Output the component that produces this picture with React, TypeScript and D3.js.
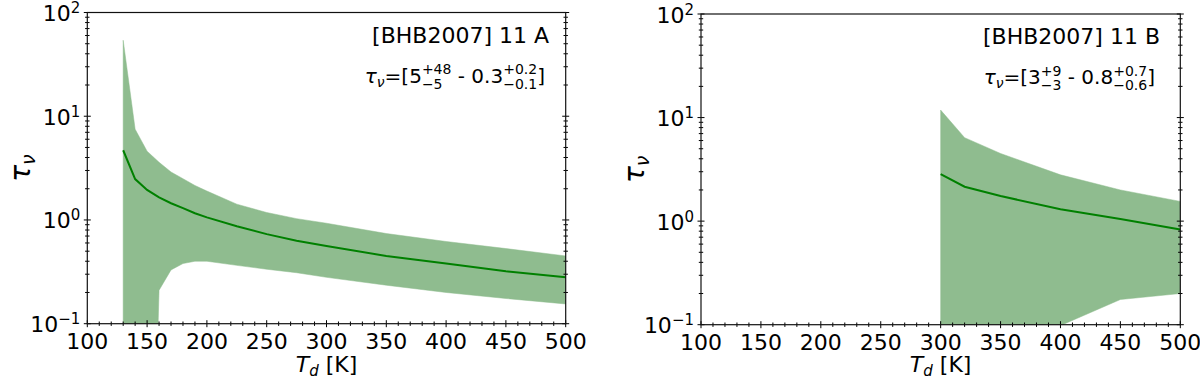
import React, { useEffect, useRef } from 'react'
import * as d3 from 'd3'

// panel A: [BHB2007] 11 A
const tempA = [130, 140, 150, 160, 170, 180, 190, 200, 225, 250, 275, 300, 350, 400, 450, 500]
const tauA = [4.7, 2.48, 1.95, 1.65, 1.45, 1.3, 1.16, 1.06, 0.87, 0.73, 0.63, 0.56, 0.45, 0.38, 0.32, 0.28]
const tauAHi = [54, 7.5, 4.6, 3.6, 2.9, 2.5, 2.15, 1.9, 1.42, 1.18, 1.03, 0.93, 0.74, 0.62, 0.53, 0.45]
const tauALo = [1e-6, 1e-6, 1e-6, 0.21, 0.33, 0.38, 0.4, 0.4, 0.365, 0.335, 0.31, 0.28, 0.235, 0.2, 0.175, 0.155]

// panel B: [BHB2007] 11 B
const tempB = [300, 320, 350, 400, 450, 500]
const tauB = [2.85, 2.15, 1.75, 1.3, 1.05, 0.83]
const tauBHi = [11.8, 6.4, 4.5, 2.8, 2.0, 1.55]
const tauBLo = [1e-6, 1e-6, 1e-6, 0.098, 0.175, 0.2]

const xTicks = [100, 150, 200, 250, 300, 350, 400, 450, 500]
const yTicks = [0.1, 1, 10, 100]
const yExp = ['−1', '0', '1', '2']

const FONT = "'DejaVu Sans', sans-serif"
const FILL = '#8fbc8f'
const LINE = '#008000'

type Part = { t?: string; it?: boolean; sub?: string; sup?: string; subIt?: boolean }

const mathA: Part[] = [
  { t: 'τ', it: true, sub: 'ν', subIt: true },
  { t: '=[5', sup: '+48', sub: '−5' },
  { t: '\u00a0- 0.3', sup: '+0.2', sub: '−0.1' },
  { t: ']' },
]
const mathB: Part[] = [
  { t: 'τ', it: true, sub: 'ν', subIt: true },
  { t: '=[3', sup: '+9', sub: '−3' },
  { t: '\u00a0- 0.8', sup: '+0.7', sub: '−0.6' },
  { t: ']' },
]

function drawMath(g: any, parts: Part[], size: number) {
  let x = 0
  const small = size * 0.7
  parts.forEach((p) => {
    if (p.t) {
      const m = g.append('text').attr('x', x).attr('y', 0).attr('font-size', size)
        .style('white-space', 'pre')
        .attr('font-style', p.it ? 'italic' : 'normal').text(p.t)
      x += m.node().getComputedTextLength()
    }
    let w = 0
    if (p.sup) {
      const s = g.append('text').attr('x', x).attr('y', -size * 0.42).attr('font-size', small).text(p.sup)
      w = Math.max(w, s.node().getComputedTextLength())
    }
    if (p.sub) {
      const s = g.append('text').attr('x', x).attr('y', p.sup ? size * 0.3 : size * 0.22)
        .attr('font-size', small).attr('font-style', p.subIt ? 'italic' : 'normal').text(p.sub)
      w = Math.max(w, s.node().getComputedTextLength())
    }
    x += w
  })
  return x
}

function drawPanel(svg: any, o: any) {
  const x = d3.scaleLinear().domain([100, 500]).range([o.left, o.right])
  const y = d3.scaleLog().domain([0.1, 100]).range([o.bottom, o.top])
  const id = 'clip' + o.key

  svg.append('clipPath').attr('id', id).append('rect')
    .attr('x', o.left).attr('y', o.top).attr('width', o.right - o.left).attr('height', o.bottom - o.top)

  const plot = svg.append('g').attr('clip-path', `url(#${id})`)
  const clampY = (v: number) => Math.min(y(Math.max(v, 1e-6)), o.bottom + 400)

  const area = d3.area<number>()
    .x((d, i) => x(o.temp[i]))
    .y0((d, i) => clampY(o.lo[i]))
    .y1((d, i) => clampY(o.hi[i]))
  plot.append('path').datum(o.temp).attr('d', area).attr('fill', FILL).attr('stroke', FILL).attr('stroke-width', 0.5)

  const line = d3.line<number>().x((d, i) => x(o.temp[i])).y((d) => y(d))
  plot.append('path').datum(o.mid).attr('d', line).attr('fill', 'none').attr('stroke', LINE).attr('stroke-width', 2)

  const ax = svg.append('g').attr('stroke', '#000').attr('stroke-width', 1)
  // minor + major x ticks (in/out)
  d3.range(100, 501, 10).forEach((t) => {
    const major = t % 50 === 0
    const l = major ? 3.5 : 2.2
    ax.append('line').attr('x1', x(t)).attr('x2', x(t)).attr('y1', o.bottom - l).attr('y2', o.bottom + l)
  })
  // y ticks left and right
  const yMinor: number[] = []
  ;[0.1, 1, 10].forEach((d) => d3.range(2, 10).forEach((k) => yMinor.push(d * k)))
  const yTickAt = (v: number, l: number) => {
    ;[o.left, o.right].forEach((sx) => {
      ax.append('line').attr('x1', sx - l).attr('x2', sx + l).attr('y1', y(v)).attr('y2', y(v))
    })
  }
  yTicks.forEach((v) => yTickAt(v, 3.5))
  yMinor.forEach((v) => yTickAt(v, 2.2))

  svg.append('rect').attr('x', o.left).attr('y', o.top).attr('width', o.right - o.left)
    .attr('height', o.bottom - o.top).attr('fill', 'none').attr('stroke', '#111').attr('stroke-width', 1.2)

  const txt = svg.append('g').attr('font-family', FONT).attr('fill', '#000')
  xTicks.forEach((t) => {
    txt.append('text').attr('x', x(t)).attr('y', o.bottom + 25).attr('text-anchor', 'middle')
      .attr('font-size', 22).text(t)
  })
  yTicks.forEach((v, i) => {
    const tt = txt.append('text').attr('x', o.left - 7).attr('y', y(v) + 8.5).attr('text-anchor', 'end').attr('font-size', 22)
    tt.append('tspan').text('10')
    tt.append('tspan').attr('font-size', 15).attr('dy', -8).text(yExp[i])
  })

  // x label
  const xl = txt.append('text').attr('x', (o.left + o.right) / 2).attr('y', 372).attr('text-anchor', 'middle').attr('font-size', 22)
  xl.append('tspan').attr('font-style', 'italic').text('T')
  xl.append('tspan').attr('font-style', 'italic').attr('font-size', 15).attr('dy', 4).text('d')
  xl.append('tspan').attr('dy', -4).text(' [K]')

  // y label
  const yl = txt.append('text').attr('transform', `translate(${o.left - 57},${(o.top + o.bottom) / 2}) rotate(-90)`)
    .attr('text-anchor', 'middle').attr('font-size', 28)
  yl.append('tspan').attr('font-style', 'italic').text('τ')
  yl.append('tspan').attr('font-style', 'italic').attr('font-size', 19).attr('dy', 5).text('ν')

  txt.append('text').attr('x', o.titleX).attr('y', o.top + 30).attr('text-anchor', 'end').attr('font-size', 22).text(o.title)

  const mg = txt.append('g')
  const w = drawMath(mg, o.math, 20)
  mg.attr('transform', `translate(${o.mathX - w},${o.top + 70})`)
}

export default function App() {
  const svgRef = useRef<SVGSVGElement>(null)

  useEffect(() => {
    const svg = d3.select(svgRef.current)
    svg.selectAll('*').remove()

    drawPanel(svg, {
      key: 'A', left: 87.3, right: 565.7, top: 12.5, bottom: 323.7,
      temp: tempA, mid: tauA, hi: tauAHi, lo: tauALo,
      title: '[BHB2007] 11 A', titleX: 549, math: mathA, mathX: 545,
    })
    drawPanel(svg, {
      key: 'B', left: 701, right: 1180.3, top: 14, bottom: 324.7,
      temp: tempB, mid: tauB, hi: tauBHi, lo: tauBLo,
      title: '[BHB2007] 11 B', titleX: 1160, math: mathB, mathX: 1155,
    })
  }, [])

  return (
    <svg ref={svgRef} width={1200} height={381}
      style={{ position: 'absolute', left: 0, top: 0, background: '#fff' }} />
  )
}
